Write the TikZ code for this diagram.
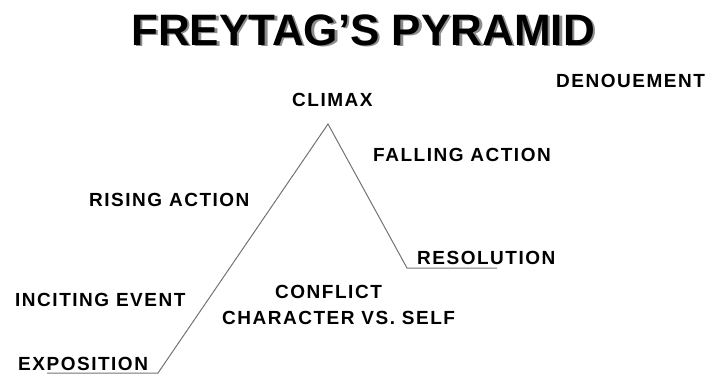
\documentclass[tikz,border=0pt]{standalone}
\usepackage{fontspec}
\setmainfont{Liberation Sans}
\newfontfamily\stagefont[LetterSpace=8]{Liberation Sans}
\usepackage{tikz}
\usetikzlibrary{positioning,calc}

\begin{document}
\begin{tikzpicture}[
    x=1pt, y=-1pt,
    stage/.style={font=\stagefont\bfseries\fontsize{19}{21}\selectfont, inner sep=0pt, anchor=base west},
    heading/.style={font=\bfseries\fontsize{44}{47}\selectfont, inner sep=0pt, anchor=base west},
    plotline/.style={draw=black!55, line width=1pt}
]
\useasboundingbox (0,0) rectangle (710,376);

% Title with shadow
\node[heading, text=black!45] (titleshadow) at (133.5,46.5) {FREYTAG'S PYRAMID};
\node[heading] (title) at (131,45) {FREYTAG'S PYRAMID};

% Plot points
\coordinate (plotstart) at (47,373);
\coordinate (risestart) at (158,373);
\coordinate (peak) at (328,124);
\coordinate (fallend) at (407,268);
\coordinate (plotend) at (497,268);

% Stage labels
\node[stage] (climax) at (292,106) {CLIMAX};
\node[stage] (denouement) at (556,87) {DENOUEMENT};
\node[stage] (falling) at (373,161) {FALLING ACTION};
\node[stage] (rising) at (89,206) {RISING ACTION};
\node[stage] (resolution) at (417,264) {RESOLUTION};
\node[stage] (inciting) at (15,306) {INCITING EVENT};
\node[stage] (conflict) at (275,298) {CONFLICT};
\node[stage] (character) at (222,324) {CHARACTER VS. SELF};
\node[stage] (exposition) at (18,370) {EXPOSITION};

% Pyramid line
\draw[plotline] (plotstart) -- (risestart) -- (peak) -- (fallend) -- (plotend);

\end{tikzpicture}
\end{document}
